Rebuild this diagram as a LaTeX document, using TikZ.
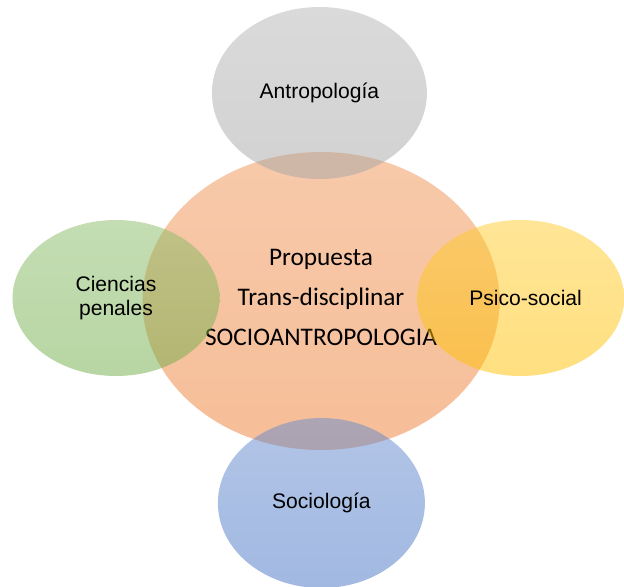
\documentclass[tikz,border=0pt]{standalone}
\usepackage{fontspec}
\setmainfont{Liberation Sans}
\newfontfamily\carlito{Carlito}
\usepackage{tikz}
\usetikzlibrary{shapes.geometric,positioning}
\definecolor{OfficeBlue}{RGB}{68,114,196}
\definecolor{OfficeOrange}{RGB}{237,125,49}
\definecolor{OfficeGray}{RGB}{165,165,165}
\definecolor{OfficeGold}{RGB}{255,192,0}
\definecolor{OfficeGreen}{RGB}{112,173,71}

\begin{document}
\begin{tikzpicture}[
    bubble/.style={ellipse,inner sep=0pt,fill opacity=0.5,text opacity=1,
      top color=#1!82!white,bottom color=#1,
      font=\fontsize{15}{17}\selectfont,align=center},
    side/.style={bubble=#1,minimum width=5.175cm,minimum height=3.9cm}
  ]
  \useasboundingbox (-8.025,-7.125) rectangle (7.575,7.525);
  % centro
  \node[bubble=OfficeOrange,minimum width=8.925cm,minimum height=7.45cm] (core) at (0,0) {};
  \node[font=\carlito\fontsize{18}{28.5}\selectfont,align=center] (title) at (0,0.09)
    {Propuesta\\Trans-disciplinar\\SOCIOANTROPOLOGIA};
  % alrededor
  \node[bubble=OfficeGray,minimum width=5.375cm,minimum height=4.3cm] (antro) at (-0.04,5.2) {Antropología};
  \node[side=OfficeGreen] (penal) at (-5.125,0.075) {Ciencias\\penales};
  \node[side=OfficeGold] (psico) at (4.99,0.075) {\hspace*{0.25cm}Psico-social};
  \node[bubble=OfficeBlue,minimum width=5.175cm,minimum height=4.25cm] (socio) at (0.01,-5.05) {Sociología};
\end{tikzpicture}
\end{document}
